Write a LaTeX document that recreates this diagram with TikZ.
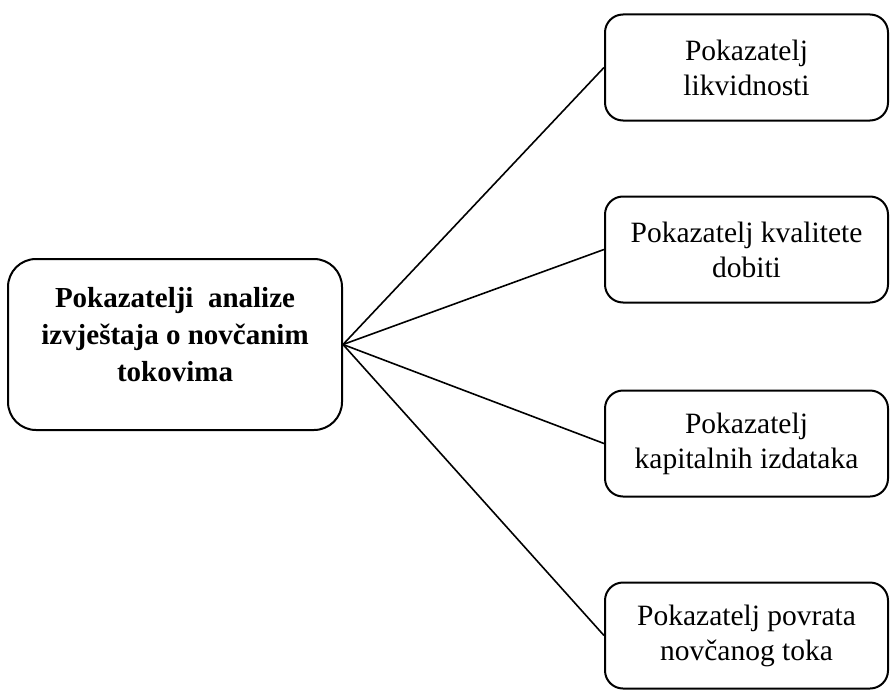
\documentclass[tikz,border=0pt]{standalone}
\usepackage{fontspec}
\setmainfont{Liberation Serif}
\begin{document}
\begin{tikzpicture}[x=1pt,y=-1pt,
  mainbox/.style={draw, line width=2pt, rounded corners=28pt, minimum width=334pt, minimum height=171pt, inner sep=0pt},
  subbox/.style={draw, line width=2pt, rounded corners=18pt, minimum width=283pt, minimum height=106pt, align=center, inner sep=0pt, font=\fontsize{29.5}{35}\selectfont},
  maintext/.style={align=center, font=\fontsize{29}{37}\selectfont\bfseries, inner sep=0pt},
  link/.style={line width=1.6pt}]
\useasboundingbox (0,0) rectangle (890,690);
\node[mainbox] (L) at (175,344.5) {};
\node[maintext] (Lt) at (175,335) {Pokazatelji\ \ analize\\izvještaja o novčanim\\tokovima};
\node[subbox] (A) at (746.5,67.5) {Pokazatelj\\likvidnosti};
\node[subbox] (B) at (746.5,249.5) {Pokazatelj kvalitete\\dobiti};
\node[subbox] (C) at (746.5,443.5) {Pokazatelj\\kapitalnih izdataka};
\node[subbox] (D) at (746.5,635.5) {Pokazatelj povrata\\novčanog toka};
\draw[link] (L.east) -- (A.west);
\draw[link] (L.east) -- (B.west);
\draw[link] (L.east) -- (C.west);
\draw[link] (L.east) -- (D.west);
\end{tikzpicture}
\end{document}
